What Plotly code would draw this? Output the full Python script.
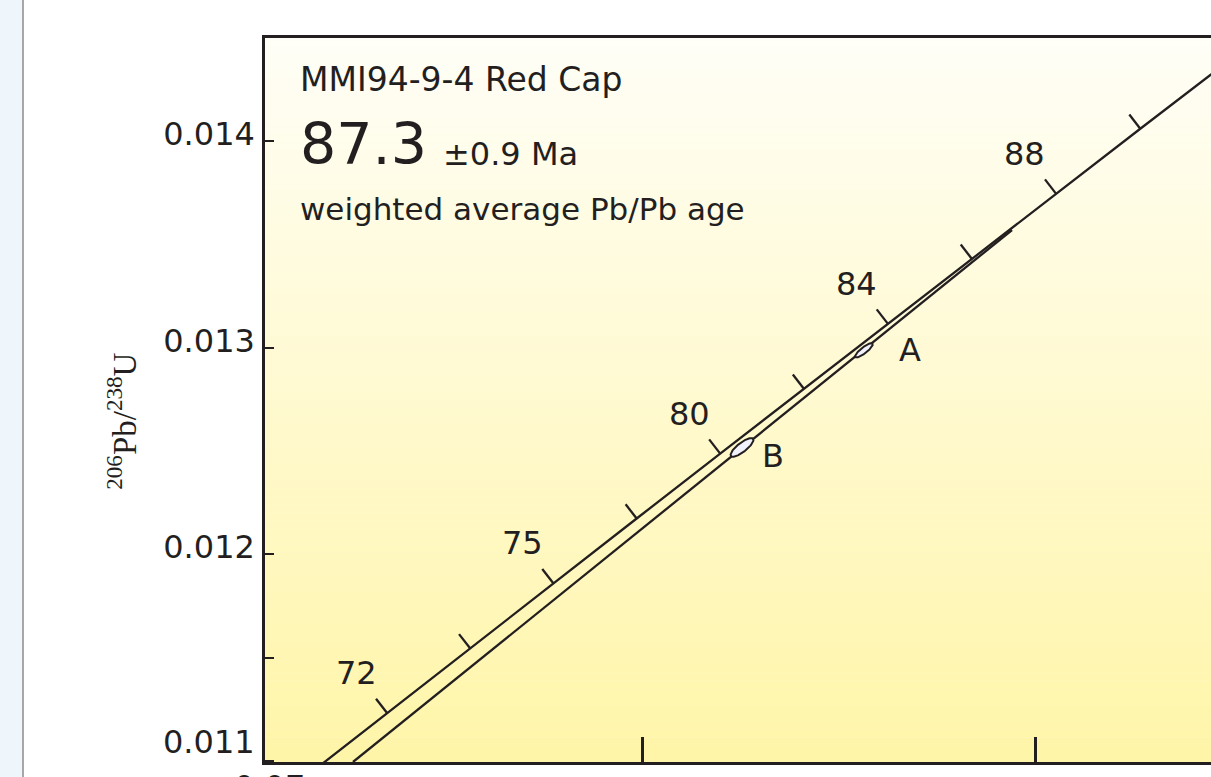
import numpy as np
import plotly.graph_objects as go

# ---------------- data ----------------
# concordia points (age in Ma, 207Pb/235U, 206Pb/238U)
conc_age = [70, 72, 74, 76, 78, 80, 82, 84, 86, 88, 90, 92]
conc_x = [0.071371, 0.073484, 0.075600, 0.077721, 0.079846, 0.081975,
          0.084108, 0.086246, 0.088387, 0.090534, 0.092683, 0.094838]
conc_y = [0.010918, 0.011232, 0.011545, 0.011860, 0.012173, 0.012487,
          0.012801, 0.013116, 0.013430, 0.013745, 0.014059, 0.014373]

# tick-marked ages and their labels (as printed in the figure)
tick_ages = [72, 74, 76, 78, 80, 82, 84, 86, 88, 90]
label_ages = [72, 76, 80, 84, 88]
label_text = ["72", "75", "80", "84", "88"]

# discordia / regression line (lower end, upper intercept)
line_x = [0.072615, 0.089413]
line_y = [0.010995, 0.013569]

# analyses (error ellipses)
spot_name = ["A", "B"]
spot_x = [0.085641, 0.082531]
spot_y = [0.012987, 0.012517]
spot_xerr = [0.000226, 0.000291]
spot_yerr = [0.0000346, 0.0000450]
spot_rho = [0.85, 0.80]

y_tickvals = [0.011, 0.0115, 0.012, 0.013, 0.014]
y_ticktext = ["", "", "0.012", "0.013", "0.014"]
x_tickvals = [0.08, 0.09]
x_ticktext = ["0.08", "0.09"]
corner_x_label = "0.07"
corner_y_label = "0.011"

# ---------------- layout geometry ----------------
W, H = 1215, 777          # a few px wider than the window: plot runs off the right edge
ML, MR, MT, MB = 265, 0, 38, 15
pw = W - ML - MR
ph = H - MT - MB
x_min = 0.070372
x_range = [x_min, x_min + pw / 39231.0]
y_range = [0.010995, 0.014498]
kx = pw / (x_range[1] - x_range[0])   # px per x unit
ky = ph / (y_range[1] - y_range[0])   # px per y unit

INK = "#231f20"
SANS = "DejaVu Sans"
SERIF = "Liberation Serif"

fig = go.Figure()

# concordia curve
fig.add_trace(go.Scatter(x=conc_x, y=conc_y, mode="lines",
                         line=dict(color=INK, width=2.3), hoverinfo="skip"))
# regression line
fig.add_trace(go.Scatter(x=line_x, y=line_y, mode="lines",
                         line=dict(color=INK, width=2.3), hoverinfo="skip"))

# tick marks perpendicular to concordia (on the upper-left side)
cx = np.array(conc_x) * kx
cy = np.array(conc_y) * ky
tx = np.gradient(cx)
ty = np.gradient(cy)
nrm = np.hypot(tx, ty)
tx, ty = tx / nrm, ty / nrm
TL = 18
tkx, tky = [], []
for a in tick_ages:
    i = conc_age.index(a)
    nx, ny = -ty[i], tx[i]
    tkx += [conc_x[i], conc_x[i] + nx * TL / kx, None]
    tky += [conc_y[i], conc_y[i] + ny * TL / ky, None]
fig.add_trace(go.Scatter(x=tkx, y=tky, mode="lines",
                         line=dict(color=INK, width=2.3), hoverinfo="skip"))

# error ellipses
th = np.linspace(0, 2 * np.pi, 120)
for i in range(len(spot_name)):
    ex = spot_x[i] + spot_xerr[i] * np.cos(th)
    ey = spot_y[i] + spot_yerr[i] * (spot_rho[i] * np.cos(th)
                                     + np.sqrt(1 - spot_rho[i] ** 2) * np.sin(th))
    fig.add_trace(go.Scatter(x=ex, y=ey, mode="lines", fill="toself",
                             fillcolor="#f2f2fc",
                             line=dict(color=INK, width=2), hoverinfo="skip"))

annotations = []
# age labels on concordia
for a, t in zip(label_ages, label_text):
    i = conc_age.index(a)
    annotations.append(dict(x=conc_x[i], y=conc_y[i], text=t, showarrow=False,
                            xshift=-31, yshift=40,
                            font=dict(family=SANS, size=32, color=INK)))
# spot labels
spot_shift = {"A": (46, 0), "B": (31, -9)}
for i, n in enumerate(spot_name):
    sx, sy = spot_shift[n]
    annotations.append(dict(x=spot_x[i], y=spot_y[i], text=n, showarrow=False,
                            xshift=sx, yshift=sy,
                            font=dict(family=SANS, size=32, color=INK)))

# text block (paper x measured from the plot's left edge)
def px_x(p):
    return (p - ML) / pw

annotations += [
    dict(xref="paper", yref="paper", x=px_x(298), y=0.943, xanchor="left", yanchor="middle",
         text="MMI94-9-4 Red Cap", showarrow=False,
         font=dict(family=SANS, size=33, color=INK)),
    dict(xref="paper", yref="paper", x=px_x(298), y=0.854, xanchor="left", yanchor="middle",
         text="87.3", showarrow=False,
         font=dict(family=SANS, size=57, color=INK)),
    dict(xref="paper", yref="paper", x=px_x(441), y=0.840, xanchor="left", yanchor="middle",
         text="±0.9 Ma", showarrow=False,
         font=dict(family=SANS, size=32, color=INK)),
    dict(xref="paper", yref="paper", x=px_x(298), y=0.764, xanchor="left", yanchor="middle",
         text="weighted average Pb/Pb age", showarrow=False,
         font=dict(family=SANS, size=31, color=INK)),
    # y-axis title
    dict(xref="paper", yref="paper", x=px_x(122), y=0.470, xanchor="center", yanchor="middle",
         text="<sup>206</sup>Pb/<sup>238</sup>U", textangle=-90, showarrow=False,
         font=dict(family=SERIF, size=33, color=INK)),
    # corner tick labels, nudged off the corner as in the figure
    dict(xref="paper", yref="paper", x=px_x(269), y=0, xanchor="center", yanchor="top",
         yshift=-4, text=corner_x_label, showarrow=False,
         font=dict(family=SANS, size=32, color=INK)),
    dict(xref="paper", yref="y", x=0, y=y_tickvals[0], xanchor="right", yanchor="middle",
         xshift=-8, yshift=19, text=corner_y_label, showarrow=False,
         font=dict(family=SANS, size=32, color=INK)),
]

# background gradient bands + page decoration
shapes = []
NB = 90
top = np.array([255, 254, 247])
bot = np.array([255, 245, 168])
for k in range(NB):
    f = (k + 0.5) / NB
    c = top * (1 - f) + bot * f
    shapes.append(dict(type="rect", xref="paper", yref="paper",
                       x0=0, x1=1, y0=1 - (k + 1) / NB, y1=1 - k / NB + 0.0005,
                       fillcolor="rgb(%d,%d,%d)" % tuple(np.round(c).astype(int)),
                       line=dict(width=0), layer="below"))
shapes.append(dict(type="rect", xref="paper", yref="paper",
                   x0=px_x(0), x1=px_x(22),
                   y0=-(MB + 5) / ph, y1=(ph + MT + 5) / ph,
                   fillcolor="#eef6fc", line=dict(width=0), layer="below"))
shapes.append(dict(type="line", xref="paper", yref="paper",
                   x0=px_x(23), x1=px_x(23),
                   y0=-(MB + 5) / ph, y1=(ph + MT + 5) / ph,
                   line=dict(color="#8a8a8a", width=1.5), layer="below"))

fig.update_layout(
    template="none",
    width=W, height=H, autosize=False,
    margin=dict(l=ML, r=MR, t=MT, b=MB, pad=0, autoexpand=False),
    paper_bgcolor="white", plot_bgcolor="#fffbe0",
    showlegend=False,
    annotations=annotations, shapes=shapes,
    xaxis=dict(range=x_range, showgrid=False, zeroline=False, automargin=False,
               showline=True, linecolor=INK, linewidth=2.5, mirror=True,
               ticks="inside", ticklen=25, tickwidth=2.5, tickcolor=INK,
               tickvals=x_tickvals, ticktext=x_ticktext, ticklabelstandoff=4,
               ticklabeloverflow="allow",
               tickfont=dict(family=SANS, size=32, color=INK)),
    yaxis=dict(range=y_range, showgrid=False, zeroline=False, automargin=False,
               showline=True, linecolor=INK, linewidth=2.5, mirror=False,
               ticks="inside", ticklen=9, tickwidth=2, tickcolor=INK,
               tickvals=y_tickvals, ticktext=y_ticktext,
               ticklabelstandoff=1, ticklabelshift=-7,
               ticklabeloverflow="allow",
               tickfont=dict(family=SANS, size=32, color=INK)),
)

post = ("document.body.style.margin='0';"
        "document.body.style.padding='0';"
        "document.body.style.overflow='hidden';"
        "document.documentElement.style.overflow='hidden';")

fig.write_html("out.html", post_script=post,
               config={"responsive": False, "displayModeBar": False})
